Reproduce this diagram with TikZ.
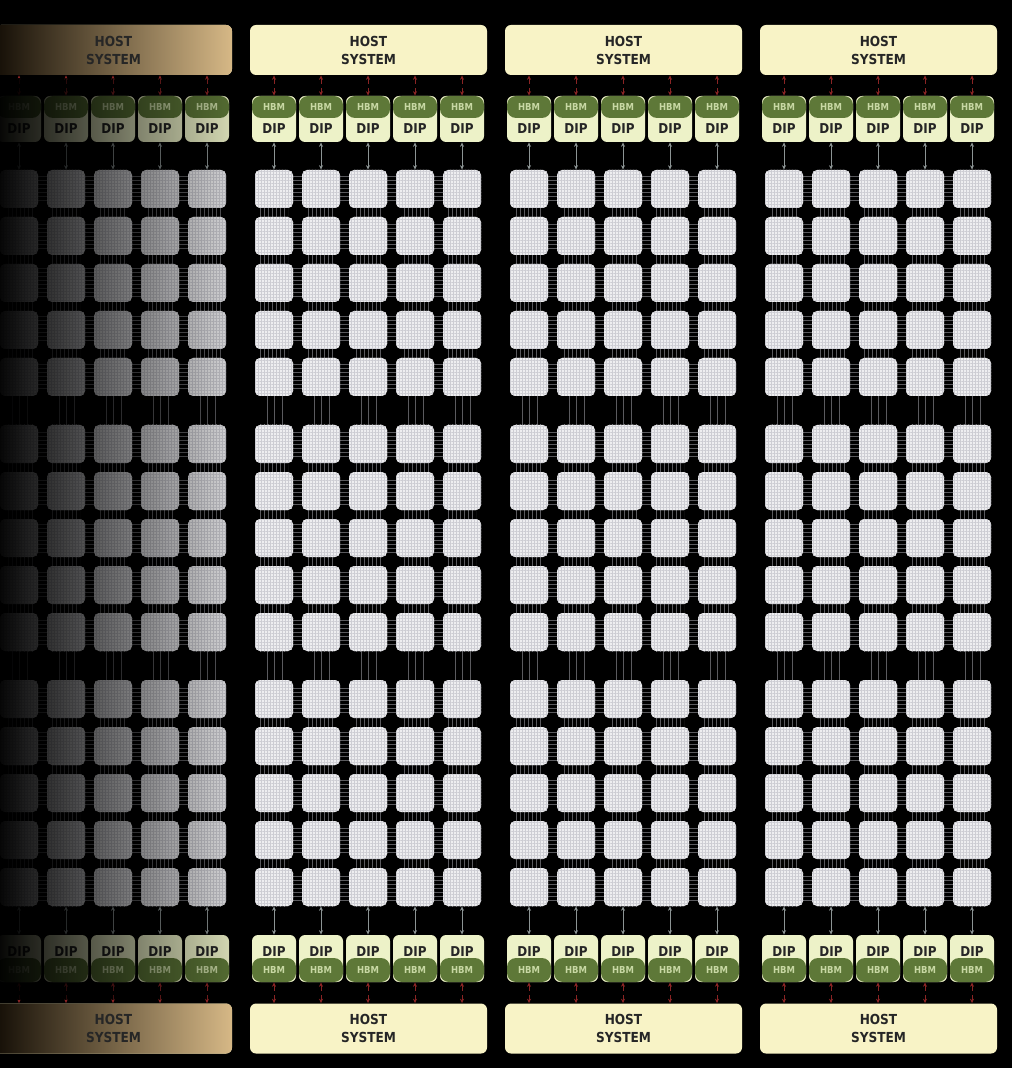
\documentclass[tikz,border=0pt]{standalone}
\usepackage{fontspec}
\setmainfont{DejaVu Sans}
\newfontfamily\dipfont{DejaVu Sans}[FakeStretch=0.88]
\usetikzlibrary{arrows.meta,patterns.meta,fadings}
\definecolor{hostfill}{HTML}{F8F3C6}
\definecolor{hosttan}{HTML}{D6B886}
\definecolor{hostmid}{HTML}{6E5632}
\definecolor{hostdark}{HTML}{140E06}
\definecolor{dipfill}{HTML}{EDF2C8}
\definecolor{hbmfill}{HTML}{5E7838}
\definecolor{hbmtext}{HTML}{C8D8A4}
\definecolor{chipfill}{HTML}{EEEEF0}
\definecolor{chipgrid}{HTML}{CDCDD3}
\definecolor{wiregrey}{HTML}{5A5A5E}
\definecolor{linkgrey}{HTML}{8C9494}
\definecolor{linkred}{HTML}{8A2424}
\definecolor{textdark}{HTML}{262626}
\tikzfading[name=fadeleft, left color=transparent!3, middle color=transparent!40, right color=transparent!92]
\tikzset{
host/.style={rectangle, rounded corners=3pt, fill=hostfill, minimum width=118.5pt, minimum height=25pt, inner sep=0pt, align=center, text=textdark, font=\dipfont\bfseries\fontsize{6.9}{9}\selectfont},
hostfade/.style={shading=axis, left color=hostdark, middle color=hostmid, right color=hosttan},
dip/.style={rectangle, rounded corners=3pt, fill=dipfill, minimum width=22pt, inner sep=0pt, text=textdark, font=\dipfont\bfseries\fontsize{6.8}{7}\selectfont},
hbm/.style={rectangle, rounded corners=4.5pt, fill=hbmfill, minimum width=22pt, inner sep=0pt, text=hbmtext, font=\dipfont\bfseries\fontsize{4.8}{5}\selectfont},
chip/.style={rectangle, rounded corners=2.5pt, minimum size=19pt, inner sep=0pt, preaction={fill=chipfill}, pattern={Hatch[distance=1.5pt,line width=0.25pt]}, pattern color=chipgrid},
conn/.style={line width=0.5pt, {Stealth[length=2.2pt,width=2pt]}-{Stealth[length=2.2pt,width=2pt]}},
redlink/.style={conn, draw=linkred, densely dashed},
greylink/.style={conn, draw=linkgrey}
}
\begin{document}
\begin{tikzpicture}[x=0.5pt,y=-0.5pt]
\fill[black] (0,0) rectangle (1012,1068);
\useasboundingbox (0,0) rectangle (1012,1068);

\foreach \g in {0,...,3}
 \foreach \b in {0,1,2} {
  \foreach \r in {0,...,4}
   \fill[pattern={Lines[distance=2pt,line width=0.25pt]}, pattern color=wiregrey]
     ({255*\g},{170+255*\b+47*\r+5}) rectangle ({255*\g+226},{170+255*\b+47*\r+33});
  \foreach \c in {0,...,4}
   \fill[pattern={Lines[angle=90,distance=2pt,line width=0.25pt]}, pattern color=wiregrey]
     ({255*\g+47*\c+5},{170+255*\b}) rectangle ({255*\g+47*\c+33},{170+255*\b+226});
 }
\foreach \g in {0,...,3}
 \foreach \b in {0,1}
  \foreach \c in {0,...,4}
   \foreach \dx in {12,19,27}
    \draw[wiregrey, line width=0.25pt] ({255*\g+47*\c+\dx},{170+255*\b+226}) -- ++(0,29);

\node[host, hostfade] (hostt-0) at (113.5,50) {HOST\\SYSTEM};
\node[host, hostfade] (hostb-0) at (113.5,1028.5) {HOST\\SYSTEM};
\foreach \g in {1,2,3} {
 \node[host] (hostt-\g) at ({255*\g+113.5},50) {HOST\\SYSTEM};
 \node[host] (hostb-\g) at ({255*\g+113.5},1028.5) {HOST\\SYSTEM};
}

\foreach \g in {0,...,3}
 \foreach \c in {0,...,4} {
  \node[dip, minimum height=23pt, text height=14.5pt, text depth=0pt] (dipt-\g-\c) at ({255*\g+47*\c+19},119) {DIP};
  \node[hbm, minimum height=11pt] (hbmt-\g-\c) at ({255*\g+47*\c+19},107) {HBM};
  \node[dip, minimum height=23.5pt, text height=5pt, text depth=7.5pt] (dipb-\g-\c) at ({255*\g+47*\c+19},958.5) {DIP};
  \node[hbm, minimum height=12pt] (hbmb-\g-\c) at ({255*\g+47*\c+19},970) {HBM};
 }

\foreach \g in {0,...,3}
 \foreach \row in {0,...,14}
  \foreach \c in {0,...,4}
   \node[chip] (chip-\g-\row-\c) at ({255*\g+47*\c+19},{189+255*int(\row/5)+47*mod(\row,5)}) {};

\foreach \g in {0,...,3}
 \foreach \c in {0,...,4} {
  \draw[redlink] (hbmt-\g-\c.north |- hostt-\g.south) -- (hbmt-\g-\c.north);
  \draw[greylink] (dipt-\g-\c.south) -- (chip-\g-0-\c.north);
  \draw[greylink] (chip-\g-14-\c.south) -- (dipb-\g-\c.north);
  \draw[redlink] (hbmb-\g-\c.south) -- (hbmb-\g-\c.south |- hostb-\g.north);
 }

\fill[black, path fading=fadeleft] (0,78) rectangle (238,1000);
\end{tikzpicture}
\end{document}
